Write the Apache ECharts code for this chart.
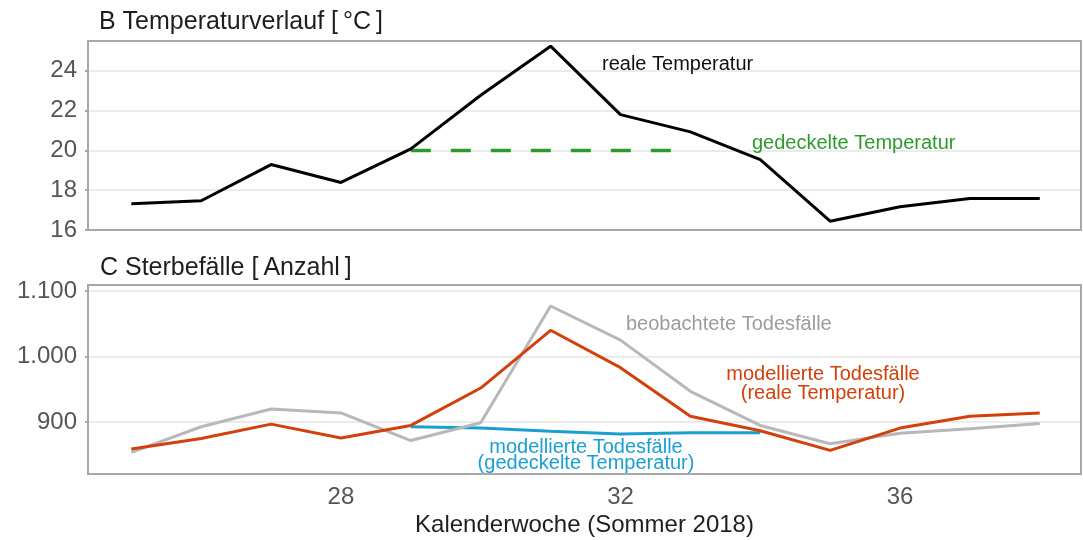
<!DOCTYPE html>
<html>
<head>
<meta charset="utf-8">
<script src="https://cdn.jsdelivr.net/npm/echarts@6/dist/echarts.min.js"></script>
<style>
  html, body { margin: 0; padding: 0; background: #fff; }
  #chart { width: 1083px; height: 540px; }
</style>
</head>
<body>
<div id="chart"></div>
<script>
// Kalenderwochen
var weeks = [25, 26, 27, 28, 29, 30, 31, 32, 33, 34, 35, 36, 37, 38];
var capWeeks = [29, 30, 31, 32, 33];
var modelCapWeeks = [29, 30, 31, 32, 33, 34];

// B Temperaturverlauf [°C]
var tempReal = [17.32, 17.47, 19.29, 18.39, 20.08, 22.77, 25.24, 21.8, 20.93, 19.54, 16.44, 17.17, 17.58, 17.58];
var tempCapped = [20, 20, 20, 20, 20];

// C Sterbefälle [Anzahl]
var deathsObserved = [854, 893, 920, 914, 872, 899, 1077, 1025, 947, 895, 867, 883, 890, 898];
var deathsModelReal = [859, 875, 897, 876, 895, 952, 1040, 983, 909, 887, 857, 891, 909, 914];
var deathsModelCapped = [893, 891, 886, 882, 884, 884];

var deathTicks = [900, 1000, 1100];
var weekTicks = [28, 32, 36];

function pairs(xs, ys) {
    return xs.map(function (x, i) { return [x, ys[i]]; });
}
function fmtDe(v) {
    return String(v).replace(/\B(?=(\d{3})+(?!\d))/g, '.');
}

var FONT = "'Liberation Sans', Arial, sans-serif";
var BORDER = '#a8a8a8';
var GRID_LINE = '#ebebeb';

var chart = echarts.init(document.getElementById('chart'));

var xCommon = {
    type: 'value',
    min: 24.38,
    max: 38.59,
    axisLine: { show: false },
    axisTick: { show: false },
    splitLine: { show: false }
};

var option = {
    animation: false,
    backgroundColor: '#fff',
    textStyle: { fontFamily: FONT },
    title: [
        {
            text: 'B Temperaturverlauf [\u2009°C\u2009]',
            left: 94, top: 5,
            textStyle: { fontFamily: FONT, fontSize: 25, fontWeight: 'normal', color: '#1e1e1e' }
        },
        {
            text: 'C Sterbefälle [\u2009Anzahl\u2009]',
            left: 95, top: 251,
            textStyle: { fontFamily: FONT, fontSize: 25, fontWeight: 'normal', color: '#1e1e1e' }
        }
    ],
    grid: [
        { left: 88, right: 2, top: 41, height: 189, show: true, borderColor: BORDER, borderWidth: 2, z: 5 },
        { left: 88, right: 2, top: 285, height: 189, show: true, borderColor: BORDER, borderWidth: 2, z: 5 }
    ],
    xAxis: [
        Object.assign({ gridIndex: 0, axisLabel: { show: false } }, xCommon),
        Object.assign({
            gridIndex: 1,
            name: 'Kalenderwoche (Sommer 2018)',
            nameLocation: 'middle',
            nameGap: 39,
            nameTextStyle: { fontFamily: FONT, fontSize: 24, color: '#1e1e1e' },
            axisLabel: {
                customValues: weekTicks,
                margin: 11,
                fontFamily: FONT, fontSize: 24, color: '#555'
            }
        }, xCommon)
    ],
    yAxis: [
        {
            gridIndex: 0,
            type: 'value',
            min: 16,
            max: 25.5,
            interval: 2,
            axisLine: { show: false },
            axisTick: { show: true, length: 3, lineStyle: { color: BORDER, width: 2 } },
            axisLabel: { showMaxLabel: false, margin: 11, fontFamily: FONT, fontSize: 24, color: '#555' },
            splitLine: { show: true, showMinLine: false, showMaxLine: false, lineStyle: { color: GRID_LINE, width: 2 } }
        },
        {
            gridIndex: 1,
            type: 'value',
            min: 821,
            max: 1109,
            axisLine: { show: false },
            axisTick: { show: true, customValues: deathTicks, length: 3, lineStyle: { color: BORDER, width: 2 } },
            axisLabel: {
                customValues: deathTicks,
                margin: 11,
                fontFamily: FONT, fontSize: 24, color: '#555',
                formatter: fmtDe
            },
            splitLine: { show: true, lineStyle: { color: GRID_LINE, width: 2 } }
        }
    ],
    series: [
        {
            name: 'gedeckelte Temperatur',
            type: 'line',
            xAxisIndex: 0, yAxisIndex: 0,
            data: pairs(capWeeks, tempCapped),
            symbol: 'none',
            lineStyle: { color: '#2e9a2e', width: 3.5, type: [20, 20] },
            z: 2
        },
        {
            name: 'reale Temperatur',
            type: 'line',
            xAxisIndex: 0, yAxisIndex: 0,
            data: pairs(weeks, tempReal),
            symbol: 'none',
            lineStyle: { color: '#000', width: 3 },
            z: 3
        },
        {
            name: 'modellierte Todesfälle (gedeckelte Temperatur)',
            type: 'line',
            xAxisIndex: 1, yAxisIndex: 1,
            data: pairs(modelCapWeeks, deathsModelCapped),
            symbol: 'none',
            lineStyle: { color: '#1a9fd3', width: 3 },
            z: 2
        },
        {
            name: 'beobachtete Todesfälle',
            type: 'line',
            xAxisIndex: 1, yAxisIndex: 1,
            data: pairs(weeks, deathsObserved),
            symbol: 'none',
            lineStyle: { color: '#b8b8b8', width: 3 },
            z: 3
        },
        {
            name: 'modellierte Todesfälle (reale Temperatur)',
            type: 'line',
            xAxisIndex: 1, yAxisIndex: 1,
            data: pairs(weeks, deathsModelReal),
            symbol: 'none',
            lineStyle: { color: '#d2400c', width: 3 },
            z: 4
        }
    ],
    graphic: [
        { type: 'text', z: 100, x: 602, y: 54, style: { text: 'reale Temperatur', font: '20px ' + FONT, fill: '#111' } },
        { type: 'text', z: 100, x: 752, y: 133, style: { text: 'gedeckelte Temperatur', font: '20px ' + FONT, fill: '#2e9a2e' } },
        { type: 'text', z: 100, x: 626, y: 314, style: { text: 'beobachtete Todesfälle', font: '20px ' + FONT, fill: '#9c9c9c' } },
        {
            type: 'text', z: 100, x: 823, y: 365,
            style: { text: 'modellierte Todesfälle\n(reale Temperatur)', font: '20px ' + FONT, fill: '#d2400c', align: 'center', lineHeight: 19 }
        },
        {
            type: 'text', z: 100, x: 586, y: 439,
            style: { text: 'modellierte Todesfälle\n(gedeckelte Temperatur)', font: '20px ' + FONT, fill: '#1a9fd3', align: 'center', lineHeight: 16 }
        }
    ]
};

chart.setOption(option);
window.addEventListener('resize', chart.resize);
</script>
</body>
</html>
